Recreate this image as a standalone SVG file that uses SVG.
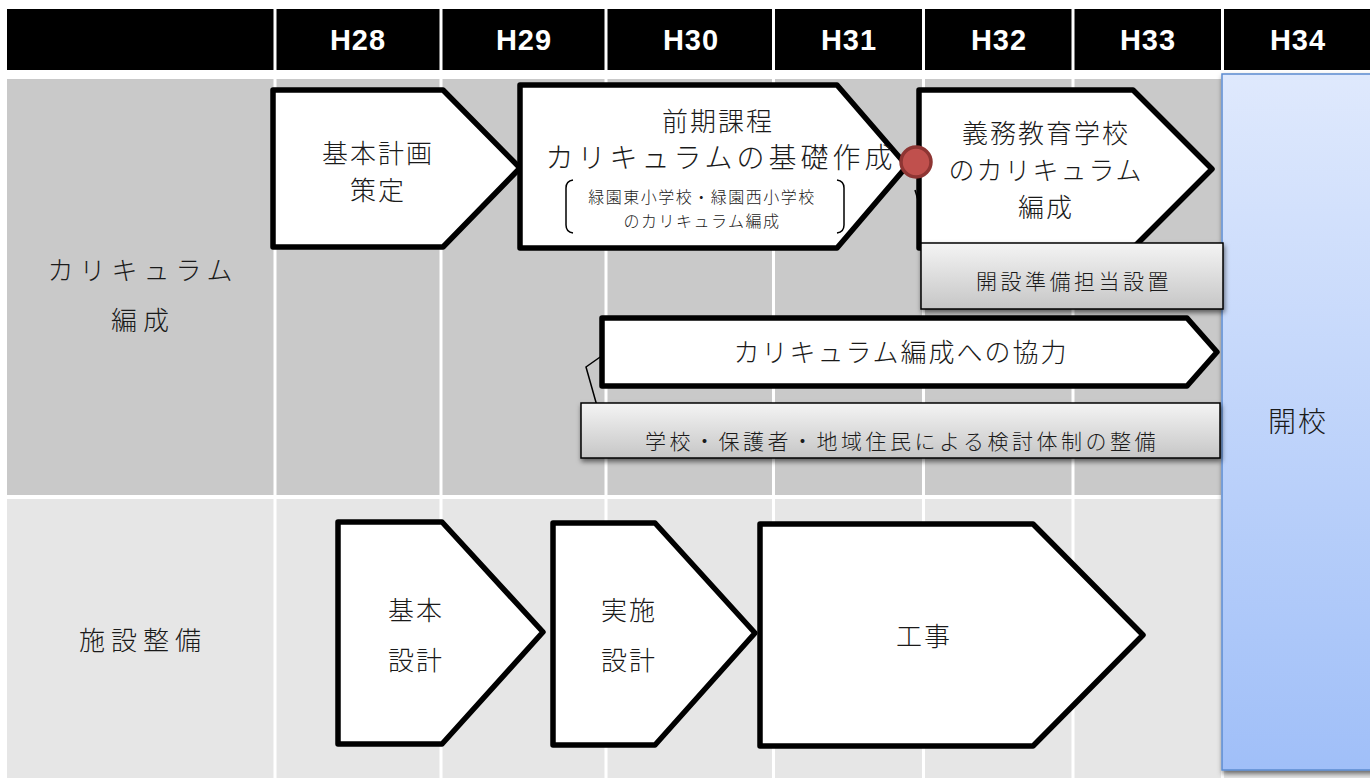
<svg xmlns="http://www.w3.org/2000/svg" width="1370" height="778" viewBox="0 0 1370 778">
<defs>
<style>
.hdr{fill:#000}
.hdrt{fill:#fff;font-family:"Liberation Sans",Arial,sans-serif;font-weight:bold;font-size:29px;letter-spacing:1px;text-anchor:middle}
.r1{fill:#c9c9c9}
.r2{fill:#e6e6e6}
.grid{stroke:#fff;stroke-width:3}
.box{fill:#fff;stroke:#000;stroke-width:5.5;stroke-linejoin:round}
.jp{font-family:"Noto Sans CJK JP","Noto Sans CJK SC",sans-serif;font-weight:300;fill:#1a1a1a;text-anchor:middle}
.big{font-size:26px;letter-spacing:2px}
.wide{font-size:28px;letter-spacing:4px}
.lbl{font-size:26px;letter-spacing:6px}
.sm{font-size:16px;letter-spacing:1.5px}
.co{font-size:21px;letter-spacing:3.5px}
.call{fill:url(#cg);stroke:#000;stroke-width:1.5}
.ptr{fill:none;stroke:#000;stroke-width:1.5}
.brk{fill:none;stroke:#000;stroke-width:1.5}
</style>
<linearGradient id="cg" x1="0" y1="0" x2="0" y2="1">
<stop offset="0" stop-color="#f4f4f4"/>
<stop offset="1" stop-color="#c6c6c6"/>
</linearGradient>
<linearGradient id="bg" x1="0" y1="0" x2="0" y2="1">
<stop offset="0" stop-color="#dfe9fd"/>
<stop offset="1" stop-color="#a0bff8"/>
</linearGradient>
<filter id="sh" x="-10%" y="-20%" width="120%" height="160%">
<feDropShadow dx="1" dy="3" stdDeviation="2.5" flood-color="#000" flood-opacity="0.55"/>
</filter>
</defs>

<g id="background">
<rect x="0" y="0" width="1370" height="778" fill="#fff"/>
<rect class="hdr" x="7" y="9" width="1363" height="61"/>
<rect class="r1" x="7" y="79" width="1363" height="416"/>
<rect class="r2" x="7" y="499" width="1363" height="279"/>
<g class="grid">
<line x1="275" y1="0" x2="275" y2="778"/>
<line x1="441" y1="0" x2="441" y2="778"/>
<line x1="606" y1="0" x2="606" y2="778"/>
<line x1="773.5" y1="0" x2="773.5" y2="778"/>
<line x1="923.5" y1="0" x2="923.5" y2="778"/>
<line x1="1073" y1="0" x2="1073" y2="778"/>
<line x1="1222.5" y1="0" x2="1222.5" y2="778"/>
</g>
</g>

<g id="header">
<text class="hdrt" x="358" y="50">H28</text>
<text class="hdrt" x="524" y="50">H29</text>
<text class="hdrt" x="691" y="50">H30</text>
<text class="hdrt" x="849" y="50">H31</text>
<text class="hdrt" x="999" y="50">H32</text>
<text class="hdrt" x="1148" y="50">H33</text>
<text class="hdrt" x="1298" y="50">H34</text>
</g>

<g id="row-labels">
<text class="jp lbl" x="143" y="280">カリキュラム</text>
<text class="jp lbl" x="143" y="330">編成</text>
<text class="jp lbl" x="143" y="650">施設整備</text>
</g>

<g id="kaikou">
<rect x="1222" y="74" width="160" height="696" fill="url(#bg)" stroke="#5b8bd0" stroke-width="1.5" filter="url(#sh)"/>
<text class="jp" x="1298" y="432" font-size="28" letter-spacing="2">開校</text>
</g>

<g id="connectors">
<polyline class="ptr" points="915,190 939,269"/>
<polyline class="ptr" points="603,355 586,367 599,413"/>
</g>

<g id="kihon-keikaku">
<path class="box" d="M273,90 H443 L520,168 L443,247 H273 Z"/>
<text class="jp big" x="378" y="163">基本計画</text>
<text class="jp big" x="378" y="200">策定</text>
</g>

<g id="zenki-katei">
<path class="box" d="M520,85 H837 L907,166 L837,248 H520 Z"/>
<text class="jp big" x="718" y="131">前期課程</text>
<text class="jp wide" x="721" y="168">カリキュラムの基礎作成</text>
<text class="jp sm" x="702" y="203">緑園東小学校・緑園西小学校</text>
<text class="jp sm" x="702" y="227">のカリキュラム編成</text>
<path class="brk" d="M573,180 Q566,181 566,188 V225 Q566,232 573,233"/>
<path class="brk" d="M837,180 Q844,181 844,188 V225 Q844,232 837,233"/>
</g>

<g id="gimu-kyouiku">
<path class="box" d="M919,90 H1133 L1212,169 L1133,248 H919 Z"/>
<text class="jp big" x="1046" y="143">義務教育学校</text>
<text class="jp big" x="1046" y="180">のカリキュラム</text>
<text class="jp big" x="1046" y="217">編成</text>
</g>

<g id="milestone">
<circle cx="916" cy="162" r="15" fill="#c0504d" stroke="#8e3533" stroke-width="3.5"/>
</g>

<g id="kaisetsu-junbi">
<rect class="call" x="921" y="243" width="302" height="66" filter="url(#sh)"/>
<text class="jp co" x="1074" y="289">開設準備担当設置</text>
</g>

<g id="kyouryoku">
<path class="box" d="M602,318 H1187 L1217,352 L1187,386 H602 Z"/>
<text class="jp big" x="901" y="362">カリキュラム編成への協力</text>
</g>

<g id="kentou-taisei">
<rect class="call" x="581" y="403" width="639" height="55" filter="url(#sh)"/>
<text class="jp co" x="902" y="449">学校・保護者・地域住民による検討体制の整備</text>
</g>

<g id="kihon-sekkei">
<path class="box" d="M338,522 H442 L543,632 L442,744 H338 Z"/>
<text class="jp big" x="416" y="620">基本</text>
<text class="jp big" x="416" y="670">設計</text>
</g>

<g id="jisshi-sekkei">
<path class="box" d="M553,523 H655 L755,633 L655,745 H553 Z"/>
<text class="jp big" x="629" y="620">実施</text>
<text class="jp big" x="629" y="670">設計</text>
</g>

<g id="kouji">
<path class="box" d="M760,524 H1033 L1143,635 L1033,746 H760 Z"/>
<text class="jp big" x="924" y="646">工事</text>
</g>
</svg>
